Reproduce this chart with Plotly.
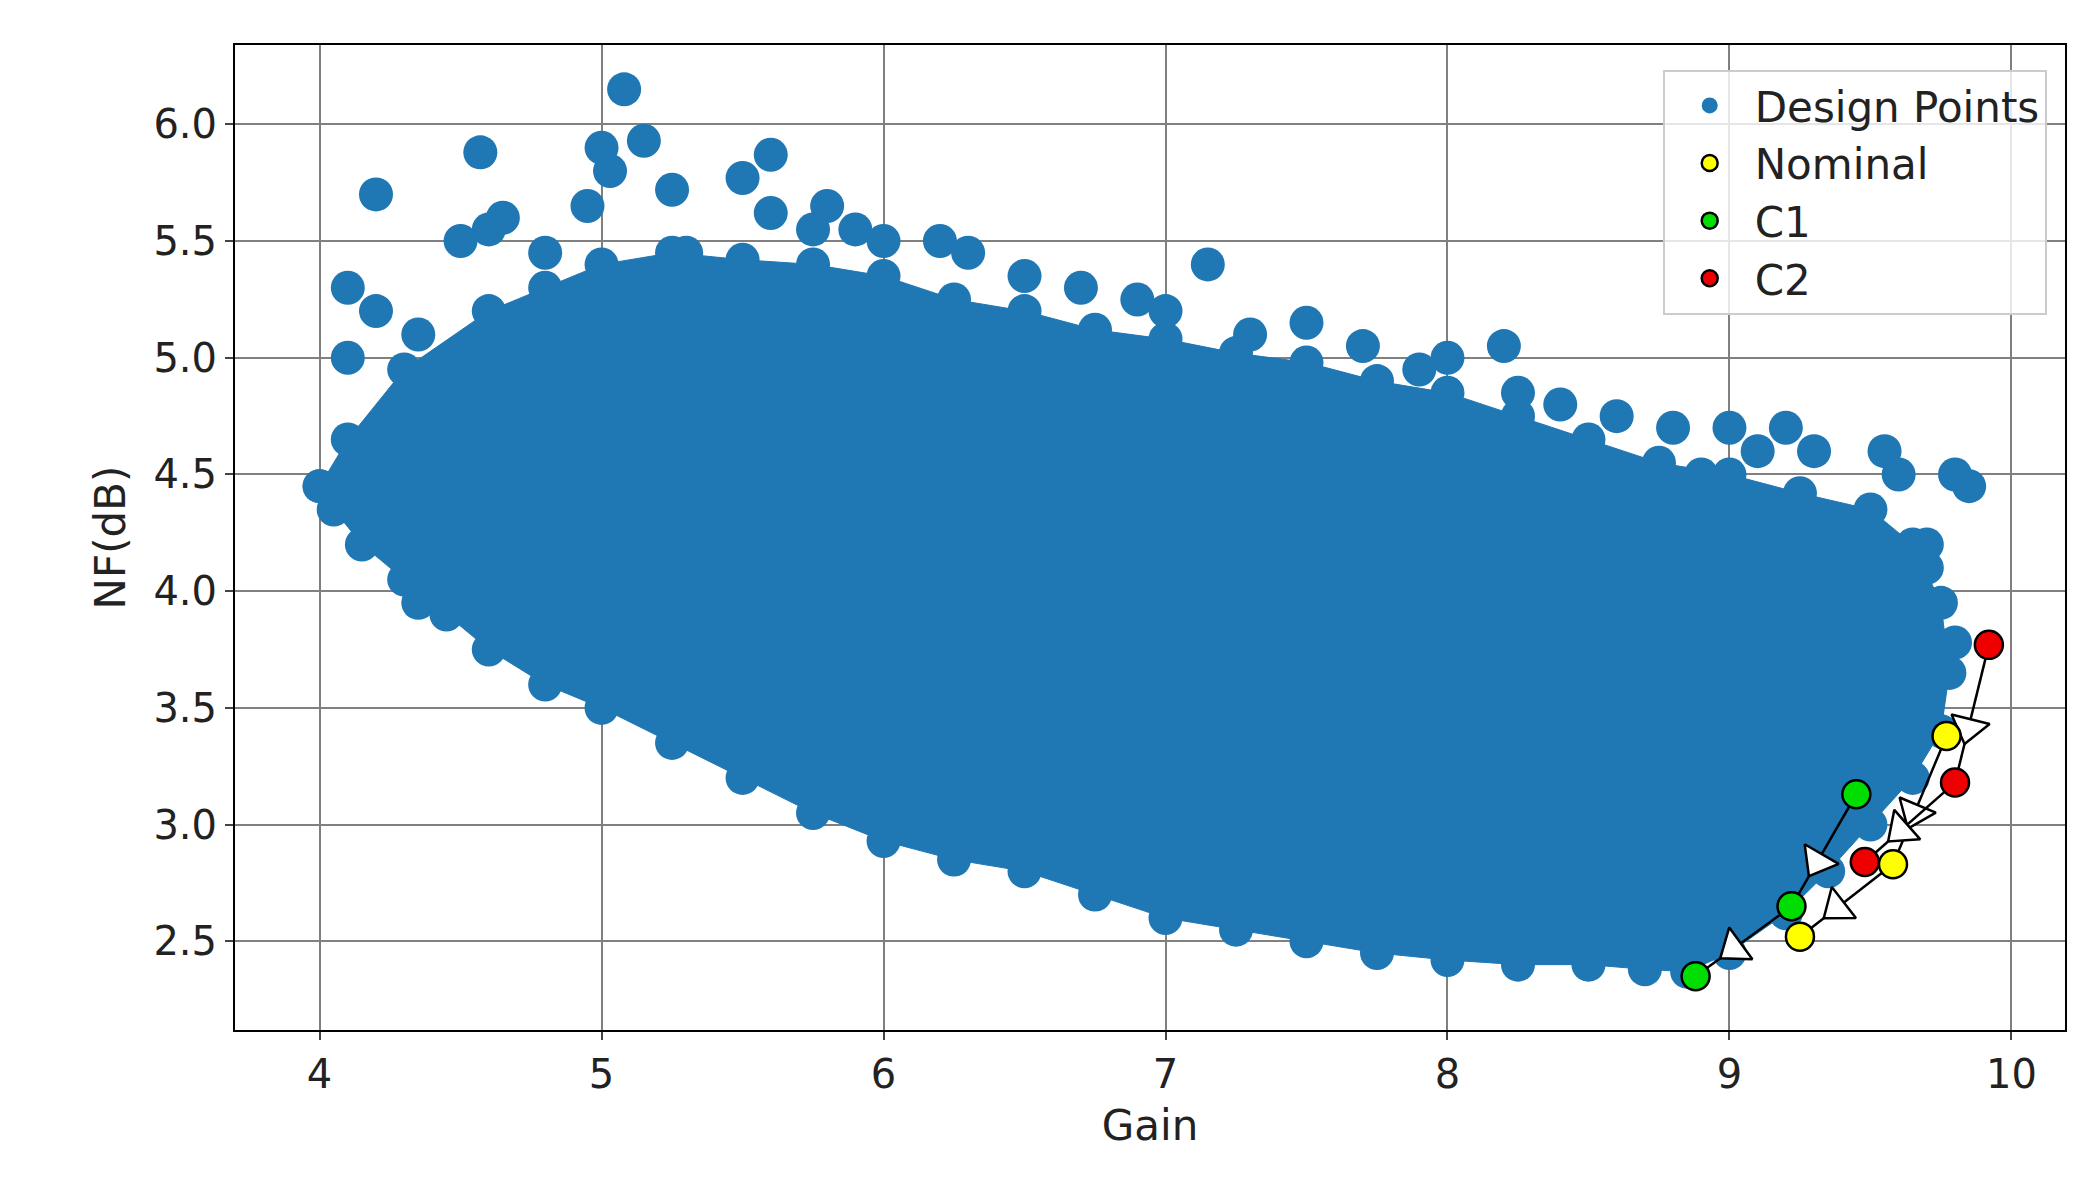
import plotly.graph_objects as go

# Outline of the dense design-point cloud (Gain, NF)
cloud_gain = [4.0,4.1,4.3,4.6,4.8,5.0,5.25,5.5,5.75,6.0,6.25,6.5,6.75,7.0,7.25,7.5,7.75,8.0,8.25,8.5,8.75,9.0,9.25,9.5,9.65,9.75,9.78,9.75,9.65,9.5,9.35,9.2,9.0,8.85,8.7,8.5,8.25,8.0,7.75,7.5,7.25,7.0,6.75,6.5,6.25,6.0,5.75,5.5,5.25,5.0,4.8,4.6,4.45,4.3,4.15,4.05]
cloud_nf   = [4.45,4.65,4.95,5.2,5.3,5.4,5.45,5.42,5.4,5.35,5.25,5.2,5.12,5.08,5.02,4.98,4.9,4.85,4.75,4.65,4.55,4.5,4.42,4.35,4.2,3.95,3.65,3.4,3.2,3.0,2.8,2.62,2.45,2.37,2.38,2.4,2.4,2.42,2.45,2.5,2.55,2.6,2.7,2.8,2.85,2.93,3.05,3.2,3.35,3.5,3.6,3.75,3.9,4.05,4.2,4.35]
# Scattered outlying design points
out_gain = [4.2,4.1,4.1,4.57,5.0,5.08,5.15,5.6,5.5,5.03,4.95,5.8,4.2,4.35,4.65,5.25,7.15,7.5,8.2,8.0,9.55,9.8,9.85,9.0,8.8,9.7,9.8,4.35,6.5,6.2,6.7,8.6,9.2,9.7,5.3,5.9,6.3,7.9,8.4,9.3,4.5,4.8,5.6,6.0,6.9,7.7,8.25,9.1,8.9,9.6,4.6,5.75,7.0,7.3]
out_nf   = [5.7,5.3,5.0,5.88,5.9,6.15,5.93,5.87,5.77,5.8,5.65,5.65,5.2,5.1,5.6,5.72,5.4,5.15,5.05,5.0,4.6,4.5,4.45,4.7,4.7,4.2,3.78,3.95,5.35,5.5,5.3,4.75,4.7,4.1,5.45,5.55,5.45,4.95,4.8,4.6,5.5,5.45,5.62,5.5,5.25,5.05,4.85,4.6,4.5,4.5,5.55,5.55,5.2,5.1]
# Corner designs: each list is the 3-step trajectory
c1_gain, c1_nf = [9.45,9.22,8.88], [3.13,2.65,2.35]
nom_gain, nom_nf = [9.77,9.58,9.25], [3.38,2.83,2.52]
c2_gain, c2_nf = [9.92,9.80,9.48], [3.77,3.18,2.84]

BLUE = "#1f77b4"
fig = go.Figure()
fig.add_trace(go.Scatter(x=cloud_gain+[cloud_gain[0]], y=cloud_nf+[cloud_nf[0]], fill="toself",
    fillcolor=BLUE, mode="lines+markers", line=dict(color=BLUE, width=1),
    marker=dict(size=34, color=BLUE), showlegend=False, hoverinfo="skip"))
fig.add_trace(go.Scatter(x=out_gain, y=out_nf, mode="markers", name="Design Points",
    marker=dict(size=34, color=BLUE)))

def arrows(gx, ny):
    for i in range(len(gx)-1):
        f = 0.6
        mx = gx[i] + f*(gx[i+1]-gx[i]); my = ny[i] + f*(ny[i+1]-ny[i])
        fig.add_trace(go.Scatter(x=[gx[i], gx[i+1]], y=[ny[i], ny[i+1]],
            mode="lines", line=dict(color="black", width=2.5),
            showlegend=False, hoverinfo="skip"))
        fig.add_trace(go.Scatter(x=[gx[i], mx], y=[ny[i], my],
            mode="markers", opacity=1,
            marker=dict(symbol="triangle-up", angleref="previous", size=[0, 34],
                        color="white", opacity=1, line=dict(color="black", width=2.5)),
            showlegend=False, hoverinfo="skip"))
for g, n in [(c1_gain, c1_nf), (nom_gain, nom_nf), (c2_gain, c2_nf)]:
    arrows(g, n)

for g, n, col, nm in [(nom_gain, nom_nf, "#ffff00", "Nominal"), (c1_gain, c1_nf, "#00dd00", "C1"), (c2_gain, c2_nf, "#ee0000", "C2")]:
    fig.add_trace(go.Scatter(x=g, y=n, mode="markers", name=nm,
        marker=dict(size=28, color=col, line=dict(color="black", width=2.5))))

grid = dict(showgrid=True, gridcolor="#808080", gridwidth=2, showline=True, linecolor="black",
            linewidth=2, mirror=True, ticks="outside", ticklen=8, tickwidth=2, zeroline=False,
            tickfont=dict(size=40, color="#222"))
fig.update_xaxes(range=[3.70, 10.19], tickvals=[4,5,6,7,8,9,10],
                 title=dict(text="Gain", font=dict(size=42, color="#222")), **grid)
fig.update_yaxes(range=[2.12, 6.34], tickvals=[2.5,3.0,3.5,4.0,4.5,5.0,5.5,6.0], tickformat=".1f",
                 title=dict(text="NF(dB)", font=dict(size=42, color="#222")), **grid)
fig.update_layout(width=2084, height=1197, plot_bgcolor="white", paper_bgcolor="white",
    font=dict(family="DejaVu Sans"), margin=dict(l=227, r=27, t=37, b=175),
    legend=dict(x=0.99, y=0.975, xanchor="right", yanchor="top", bgcolor="rgba(255,255,255,0.8)",
                bordercolor="#ccc", borderwidth=2, font=dict(size=42, color="#222"),
                itemsizing="trace", itemwidth=80, tracegroupgap=12))
fig.write_html("out.html")
